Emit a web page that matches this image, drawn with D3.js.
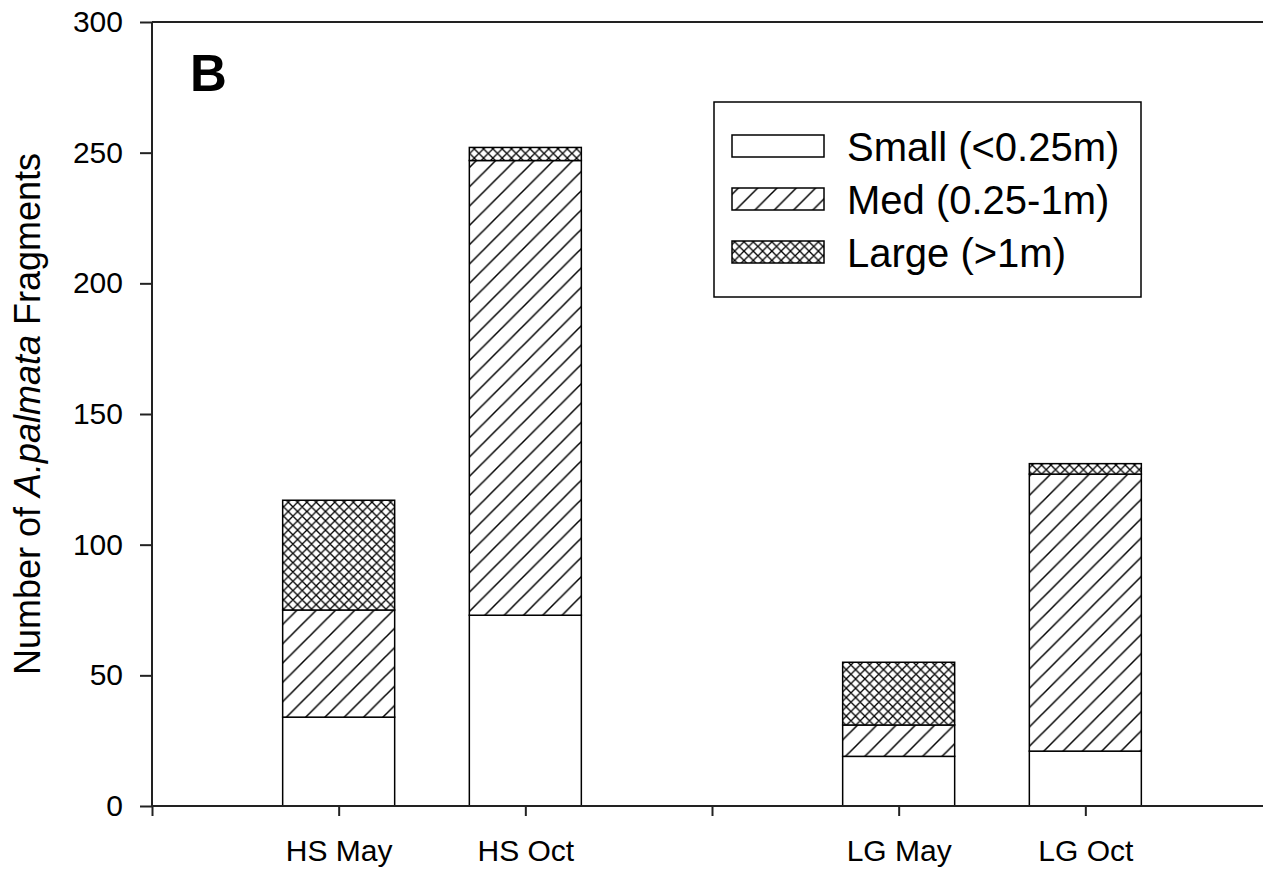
<!DOCTYPE html>
<html>
<head>
<meta charset="utf-8">
<script src="https://cdn.jsdelivr.net/npm/d3@7"></script>
<style>
  html, body { margin: 0; padding: 0; background: #fff; }
  svg { display: block; }
  text { font-family: "Liberation Sans", Arial, sans-serif; fill: #000; }
</style>
</head>
<body>
<svg id="chart" width="1263" height="874"></svg>
<script>
// ---- data ----
const slots = ["_start", "HS May", "HS Oct", "_gap", "LG May", "LG Oct", "_end"];
const categories = ["HS May", "HS Oct", "LG May", "LG Oct"];
const seriesNames = ["Small (<0.25m)", "Med (0.25-1m)", "Large (>1m)"];
const small = [34, 73, 19, 21];
const med = [41, 174, 12, 106];
const large = [42, 5, 24, 4];
const yTicks = [0, 50, 100, 150, 200, 250, 300];

const svg = d3.select("#chart");
const x = d3.scalePoint().domain(slots).range([152, 1272]);
const y = d3.scaleLinear().domain([0, 300]).range([806, 22]);
const barW = x.step() * 0.6;

// patterns
const defs = svg.append("defs");
const hs = 19.3;
const pMed = defs.append("pattern").attr("id", "pMed")
  .attr("patternUnits", "userSpaceOnUse").attr("width", hs).attr("height", hs);
pMed.append("rect").attr("width", hs).attr("height", hs).attr("fill", "#fff");
pMed.append("path")
  .attr("d", `M0,${hs} L${hs},0 M${-hs/2},${hs/2} L${hs/2},${-hs/2} M${hs/2},${hs*1.5} L${hs*1.5},${hs/2}`)
  .attr("stroke", "#000").attr("stroke-width", 1.5);
const cs = 9.3;
const pLarge = defs.append("pattern").attr("id", "pLarge")
  .attr("patternUnits", "userSpaceOnUse").attr("width", cs).attr("height", cs);
pLarge.append("rect").attr("width", cs).attr("height", cs).attr("fill", "#fff");
pLarge.append("path")
  .attr("d", `M0,${cs} L${cs},0 M${-cs/2},${cs/2} L${cs/2},${-cs/2} M${cs/2},${cs*1.5} L${cs*1.5},${cs/2}
              M0,0 L${cs},${cs} M${-cs/2},${cs/2} L${cs/2},${cs*1.5} M${cs/2},${-cs/2} L${cs*1.5},${cs/2}`)
  .attr("stroke", "#000").attr("stroke-width", 1.3);
const fills = ["#fff", "url(#pMed)", "url(#pLarge)"];

// stacked data
const rows = categories.map((c, i) => ({ cat: c, s0: small[i], s1: med[i], s2: large[i] }));
const stack = d3.stack().keys(["s0", "s1", "s2"])(rows);

svg.append("g").selectAll("g").data(stack).join("g")
  .attr("fill", (d, i) => fills[i])
  .selectAll("rect").data(d => d).join("rect")
  .attr("x", d => x(d.data.cat) - barW / 2)
  .attr("width", barW)
  .attr("y", d => y(d[1]))
  .attr("height", d => y(d[0]) - y(d[1]))
  .attr("stroke", "#000").attr("stroke-width", 1.5);

// axes
const yAxis = svg.append("g").attr("transform", "translate(152,0)")
  .call(d3.axisLeft(y).tickValues(yTicks).tickSize(12).tickPadding(17));
const xAxis = svg.append("g").attr("transform", "translate(0,806)")
  .call(d3.axisBottom(x).tickSize(10).tickPadding(24)
    .tickFormat(d => d.startsWith("_") ? "" : d));
[yAxis, xAxis].forEach(a => {
  a.selectAll("path, line").attr("stroke", "#222").attr("stroke-width", 2);
  a.select(".domain").attr("d", null);
});
yAxis.selectAll("text").attr("font-size", 30).attr("font-family", "Liberation Sans, Arial, sans-serif");
xAxis.selectAll("text").attr("font-size", 30).attr("font-family", "Liberation Sans, Arial, sans-serif");

// frame lines (left, bottom, top)
svg.append("line").attr("x1", x.range()[0]).attr("x2", x.range()[0])
  .attr("y1", y(300)).attr("y2", y(0)).attr("stroke", "#222").attr("stroke-width", 2);
svg.append("line").attr("x1", x.range()[0]).attr("x2", x.range()[1])
  .attr("y1", y(0)).attr("y2", y(0)).attr("stroke", "#222").attr("stroke-width", 2);
svg.append("line").attr("x1", x.range()[0]).attr("x2", x.range()[1])
  .attr("y1", y(300)).attr("y2", y(300)).attr("stroke", "#222").attr("stroke-width", 2);

// y label
const yl = svg.append("text")
  .attr("transform", `translate(40,${(y(0) + y(300)) / 2}) rotate(-90)`)
  .attr("text-anchor", "middle").attr("font-size", 36);
yl.append("tspan").text("Number of ");
yl.append("tspan").attr("font-style", "italic").text("A.palmata");
yl.append("tspan").text(" Fragments");

// panel letter
svg.append("text").attr("x", 190).attr("y", 91)
  .attr("font-size", 51).attr("font-weight", "bold").text("B");

// legend
const lg = svg.append("g");
lg.append("rect").attr("x", 714).attr("y", 102).attr("width", 427).attr("height", 195)
  .attr("fill", "#fff").attr("stroke", "#000").attr("stroke-width", 1.5);
const rowY = [135, 188, 241];
seriesNames.forEach((n, i) => {
  lg.append("rect").attr("x", 732).attr("y", rowY[i]).attr("width", 92).attr("height", 22)
    .attr("fill", fills[i]).attr("stroke", "#000").attr("stroke-width", 1.5);
  lg.append("text").attr("x", 847).attr("y", rowY[i] + 26)
    .attr("font-size", 40).text(n);
});
</script>
</body>
</html>
